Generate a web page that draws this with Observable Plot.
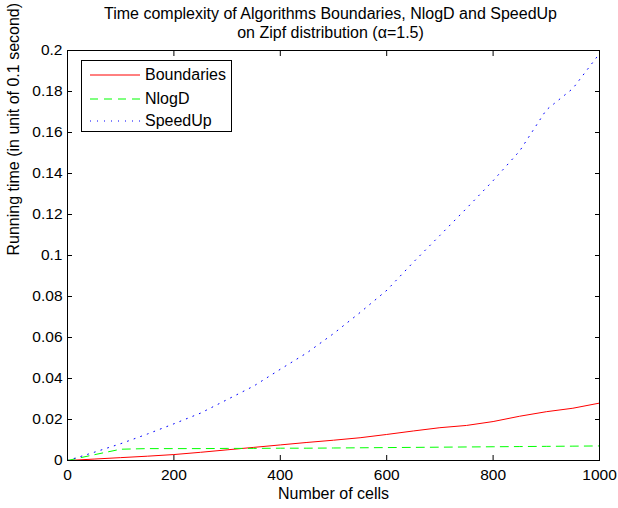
<!DOCTYPE html>
<html>
<head>
<meta charset="utf-8">
<script src="https://cdn.jsdelivr.net/npm/d3@7"></script>
<script src="https://cdn.jsdelivr.net/npm/@observablehq/plot@0.6"></script>
<style>
  html, body { margin: 0; padding: 0; background: white; }
  #wrap { position: relative; width: 618px; height: 508px; font-family: "Liberation Sans", Arial, sans-serif; }
  #legend { position: absolute; left: 81px; top: 60px; width: 151px; height: 72px; background: white; border: 1px solid black; box-sizing: border-box; }
  .entry { position: absolute; left: 0; height: 20px; display: flex; align-items: center; font-size: 16px; color: black; }
  .entry svg { margin-left: 8px; margin-right: 5px; }
</style>
</head>
<body>
<div id="wrap"></div>
<script>
// ---- data ----
const cells = [0, 50, 100, 150, 200, 250, 300, 350, 400, 450, 500, 550, 600, 650, 700, 750, 800, 850, 900, 950, 1000];
const boundaries = [0, 0.0007, 0.0014, 0.0021, 0.0029, 0.0040, 0.0052, 0.0064, 0.0076, 0.0088, 0.0099, 0.0111, 0.0127, 0.0144, 0.0160, 0.0171, 0.0190, 0.0216, 0.0238, 0.0255, 0.0280];
const nlogD = [0, 0.0028, 0.0055, 0.0058, 0.0058, 0.0058, 0.0059, 0.0059, 0.0060, 0.0060, 0.0061, 0.0062, 0.0063, 0.0064, 0.0065, 0.0066, 0.0067, 0.0068, 0.0069, 0.0070, 0.0071];
const speedUp = [0, 0.0040, 0.0082, 0.0129, 0.0179, 0.0231, 0.0297, 0.0363, 0.0445, 0.0525, 0.0619, 0.0722, 0.0830, 0.0967, 0.1098, 0.1230, 0.1365, 0.1510, 0.1710, 0.1815, 0.1985];

const seriesNames = ["Boundaries", "NlogD", "SpeedUp"];
const seriesColors = ["#ff0000", "#00ff00", "#0000ff"];
const seriesDash = [null, "8,6", "1,6"];

const xTicks = [0, 200, 400, 600, 800, 1000];
const xTickLabels = ["0", "200", "400", "600", "800", "1000"];
const yTicks = [0, 0.02, 0.04, 0.06, 0.08, 0.1, 0.12, 0.14, 0.16, 0.18, 0.2];
const yTickLabels = ["0", "0.02", "0.04", "0.06", "0.08", "0.1", "0.12", "0.14", "0.16", "0.18", "0.2"];

const titleLines = ["Time complexity of Algorithms Boundaries, NlogD and SpeedUp", "on Zipf distribution (\u03b1=1.5)"];
const xLabel = "Number of cells";
const yLabel = "Running time (in unit of 0.1 second)";

// ---- table ----
const allSeries = [boundaries, nlogD, speedUp];
const rows = [];
allSeries.forEach((vals, s) => vals.forEach((v, i) => rows.push({series: seriesNames[s], cells: cells[i], time: v})));

const lineMarks = seriesNames.map((name, s) =>
  Plot.line(rows.filter(r => r.series === name), {
    x: "cells", y: "time",
    stroke: seriesColors[s],
    strokeWidth: 1,
    strokeDasharray: seriesDash[s] || undefined
  })
);

const fmtX = d => xTickLabels[xTicks.indexOf(d)];
const fmtY = d => yTickLabels[yTicks.findIndex(t => Math.abs(t - d) < 1e-9)];

const chart = Plot.plot({
  width: 618,
  height: 508,
  marginLeft: 67,
  marginRight: 19,
  marginTop: 50,
  marginBottom: 48,
  style: {fontFamily: "'Liberation Sans', Arial, sans-serif", fontSize: "15.5px", color: "black", background: "white"},
  x: {domain: [0, 1000]},
  y: {domain: [0, 0.2]},
  marks: [
    ...lineMarks,
    Plot.axisX(xTicks, {anchor: "bottom", tickSize: -5, tickPadding: 13, tickFormat: fmtX, label: null}),
    Plot.axisX(xTicks, {anchor: "top", tickSize: -5, tickFormat: () => "", label: null}),
    Plot.axisY(yTicks, {anchor: "left", tickSize: -5, tickPadding: 10, tickFormat: fmtY, label: null}),
    Plot.axisY(yTicks, {anchor: "right", tickSize: -5, tickFormat: () => "", label: null}),
    Plot.frame({stroke: "black", strokeWidth: 1}),
    Plot.text([titleLines[0]], {text: d => d, frameAnchor: "top", dy: -31.5, dx: -3, lineAnchor: "bottom", fontSize: 16}),
    Plot.text([titleLines[1]], {text: d => d, frameAnchor: "top", dy: -12.7, dx: -3, lineAnchor: "bottom", fontSize: 16}),
    Plot.text([xLabel], {text: d => d, frameAnchor: "bottom", dy: 38, lineAnchor: "bottom", fontSize: 16}),
    Plot.text([yLabel], {text: d => d, frameAnchor: "left", dx: -53.5, rotate: -90, lineAnchor: "middle", fontSize: 16})
  ]
});

const wrap = document.getElementById("wrap");
wrap.appendChild(chart);

// ---- legend ----
const legend = document.createElement("div");
legend.id = "legend";
const entryTops = [4, 27.5, 50];
seriesNames.forEach((name, s) => {
  const e = document.createElement("div");
  e.className = "entry";
  e.style.top = entryTops[s] + "px";
  const svg = d3.create("svg").attr("width", 50).attr("height", 4);
  svg.append("line").attr("x1", 0).attr("x2", 50).attr("y1", 2).attr("y2", 2)
    .attr("stroke", seriesColors[s]).attr("stroke-width", 1)
    .attr("stroke-dasharray", seriesDash[s]);
  e.appendChild(svg.node());
  const t = document.createElement("span");
  t.textContent = name;
  e.appendChild(t);
  legend.appendChild(e);
});
wrap.appendChild(legend);
</script>
</body>
</html>
